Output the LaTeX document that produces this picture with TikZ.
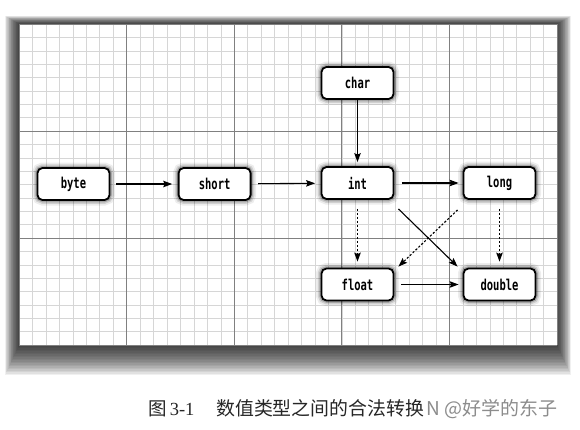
\documentclass[tikz,border=0pt]{standalone}
\usepackage{fontspec}
\setmainfont{Liberation Serif}
\newfontfamily\cjk{Noto Sans CJK SC}
\newfontfamily\codefont[FakeStretch=0.7]{DejaVu Sans Mono}
\usetikzlibrary{arrows.meta}
\tikzset{
  minorgrid/.style={draw=black!16, line width=0.5pt},
  majorgrid/.style={draw=black!50, line width=0.7pt},
  typebox/.style={draw=black, fill=white, rounded corners=5pt, line width=1.8pt,
    minimum width=72pt, minimum height=32pt, inner sep=0pt,
    font=\codefont\bfseries\fontsize{15}{15}\selectfont,
    preaction={draw=black, opacity=0.07, line width=11pt},
    preaction={draw=black, opacity=0.12, line width=7.5pt},
    preaction={draw=black, opacity=0.2, line width=4.5pt}},
  arr/.style={line width=1.1pt, -{Stealth[length=9pt,width=6.5pt,inset=1.5pt]}},
  dotarr/.style={arr, dash pattern=on 2.2pt off 1.8pt},
}
\begin{document}
\begin{tikzpicture}[x=1pt,y=-1pt]
\useasboundingbox (0,0) rectangle (580,429);
\fill[white] (0,0) rectangle (580,429);
% panel shadow
\foreach \s in {1,...,20}{
  \fill[black, opacity=0.06] ({19-0.7*\s},{24-0.4*\s}) rectangle ({557+0.7*\s},{345+1.5*\s});
}
\fill[white] (19,24) rectangle (557,345);
% minor grid
\foreach \i in {0,...,40}{
  \draw[minorgrid] ({19+\i*13.45},24) -- ({19+\i*13.45},345);
}
\foreach \j in {0,...,24}{
  \draw[minorgrid] (19,{24+\j*13.375}) -- (557,{24+\j*13.375});
}
% major grid
\foreach \i in {0,...,5}{
  \draw[majorgrid] ({19+\i*107.6},24) -- ({19+\i*107.6},345);
}
\foreach \j in {0,...,3}{
  \draw[majorgrid] (19,{24+\j*107}) -- (557,{24+\j*107});
}
% nodes
\node[typebox] (char)   at (357.5,83)    {char};
\node[typebox] (byte)   at (73.5,184)    {byte};
\node[typebox] (short)  at (214.6,184)   {short};
\node[typebox] (int)    at (357.5,183)   {int};
\node[typebox] (long)   at (499.5,183)   {long};
\node[typebox] (float)  at (357.5,284.5) {float};
\node[typebox] (double) at (499.5,284.5) {double};
% connectors
\draw[arr, shorten <=6pt, shorten >=5.5pt] (byte) -- (short);
\draw[arr, shorten <=6.5pt, shorten >=5.5pt] (short) -- (int);
\draw[arr, shorten <=7.5pt, shorten >=4pt] (int) -- (long);
\draw[arr, shorten <=0.5pt, shorten >=4pt] (char) -- (int);
\draw[dotarr, shorten <=9pt, shorten >=6pt] (int) -- (float);
\draw[dotarr, shorten <=9pt, shorten >=6pt] (long) -- (double);
\draw[arr] ([shift={(4,9)}]int.south east) -- ([shift={(-5,-1)}]double.north west);
\draw[dotarr] ([shift={(-5,10)}]long.south west) -- ([shift={(4,-1)}]float.north east);
\draw[arr, shorten <=7pt, shorten >=4pt] (float) -- (double);
% caption
\node[anchor=base west, inner sep=0pt, font=\fontsize{18.5}{18.5}\selectfont, text=black!85] (fig) at (148,415) {{\cjk 图}\,3-1};
\node[anchor=base west, inner sep=0pt, font=\cjk\fontsize{18.9}{18.9}\selectfont, text=black!85] (cap) at (216,415) {数值类型之间的合法转换};
\node[anchor=base west, inner sep=0pt, font=\cjk\fontsize{19}{19}\selectfont, text=black!45] (wm) at (426,415) {N @好学的东子};
\end{tikzpicture}
\end{document}
